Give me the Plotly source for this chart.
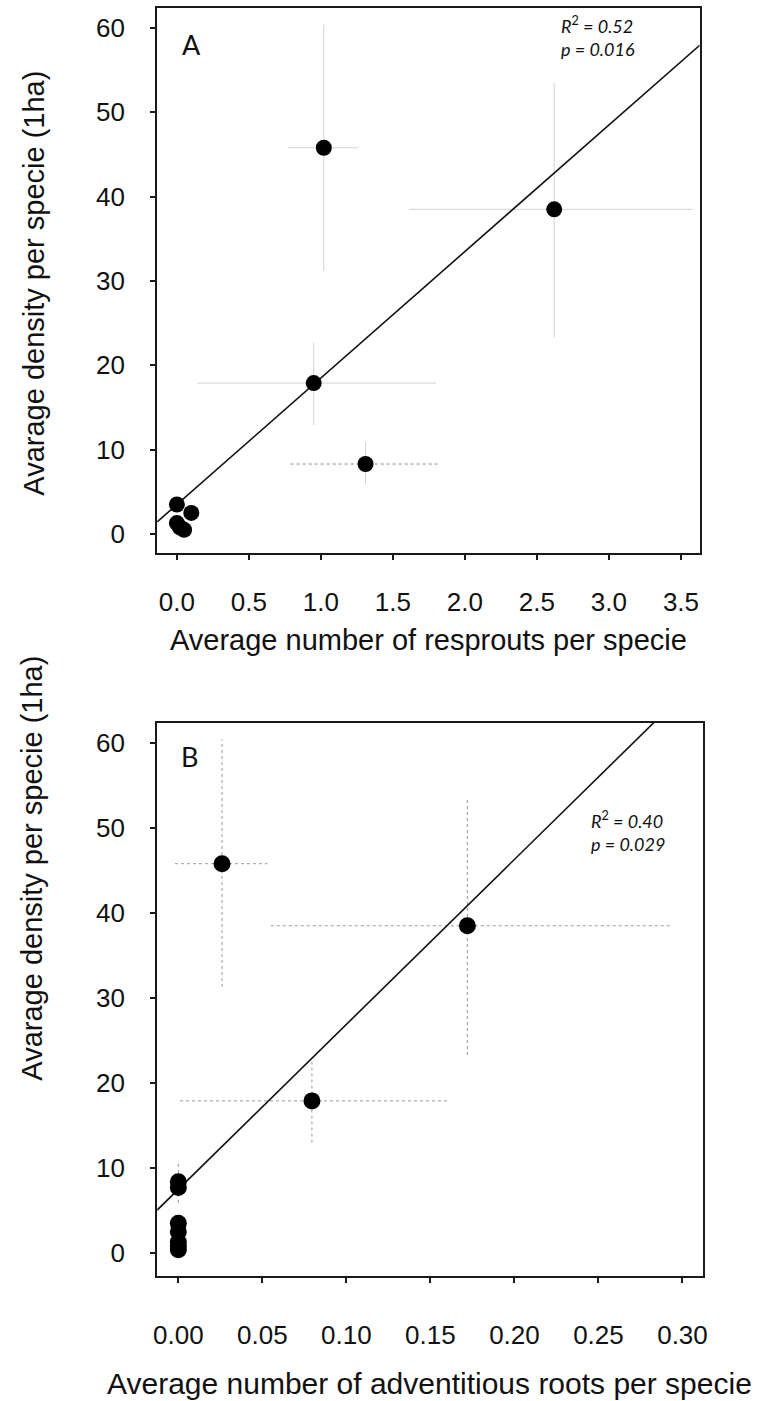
import plotly.graph_objects as go

W, H = 761, 1401

# ---------------- Panel A data ----------------
a_x = [1.02, 2.62, 0.95, 1.31, 0.00, 0.10, 0.00, 0.02, 0.05]
a_y = [45.8, 38.5, 17.9, 8.3, 3.5, 2.5, 1.3, 0.8, 0.5]
a_err_x_lo = [0.77, 1.61, 0.14, 0.79]
a_err_x_hi = [1.26, 3.58, 1.80, 1.83]
a_err_y_lo = [31.2, 23.3, 12.9, 5.9]
a_err_y_hi = [60.4, 53.5, 22.7, 10.9]
a_fit = {"intercept": 3.5, "slope": 15.0}
a_xticks = [0.0, 0.5, 1.0, 1.5, 2.0, 2.5, 3.0, 3.5]
a_xticklabels = ["0.0", "0.5", "1.0", "1.5", "2.0", "2.5", "3.0", "3.5"]
a_xrange = [-0.137, 3.63]
a_yrange = [-2.25, 62.37]

# ---------------- Panel B data ----------------
b_x = [0.026, 0.172, 0.0795, 0.0, 0.0, 0.0, 0.0, 0.0, 0.0, 0.0]
b_y = [45.8, 38.5, 17.9, 8.4, 7.7, 3.5, 2.5, 1.3, 0.8, 0.4]
b_err_x_lo = [-0.002, 0.055, 0.001]
b_err_x_hi = [0.053, 0.294, 0.160]
b_err_y_lo = [31.3, 23.3, 13.0, 5.9]
b_err_y_hi = [60.4, 53.6, 22.6, 10.6]
b_fit = {"intercept": 7.5, "slope": 194.0}
b_xticks = [0.0, 0.05, 0.10, 0.15, 0.20, 0.25, 0.30]
b_xticklabels = ["0.00", "0.05", "0.10", "0.15", "0.20", "0.25", "0.30"]
b_xrange = [-0.0126, 0.312]
b_yrange = [-2.7, 62.35]

y_ticks = [0, 10, 20, 30, 40, 50, 60]

y_title = "Avarage density per specie (1ha)"
a_x_title = "Average number of resprouts per specie"
b_x_title = "Average number of adventitious roots per specie"

# pixel layout of plot areas
A_BOX = (155, 704, 8, 553)     # left, right, top, bottom
B_BOX = (155, 707, 723, 1276)


def xdom(box):
    return [box[0] / W, box[1] / W]


def ydom(box):
    return [1 - box[3] / H, 1 - box[2] / H]


fig = go.Figure()


def seg_trace(xs, ys, xa, ya, color, dash, width=1):
    fig.add_trace(go.Scatter(x=xs, y=ys, mode="lines", xaxis=xa, yaxis=ya,
                             line=dict(color=color, width=width, dash=dash),
                             hoverinfo="skip", showlegend=False))


# ---- Panel A error bars ----
for i in range(len(a_err_y_lo)):
    seg_trace([a_x[i], a_x[i]], [a_err_y_lo[i], a_err_y_hi[i]], "x", "y", "#d2d2d2", "solid")
for i in range(len(a_err_x_lo)):
    dash = "dot" if i == 3 else "solid"
    col = "#8a8a8a" if i == 3 else "#d2d2d2"
    seg_trace([a_err_x_lo[i], a_err_x_hi[i]], [a_y[i], a_y[i]], "x", "y", col, dash)

# Panel A fit line
fig.add_trace(go.Scatter(
    x=a_xrange, y=[a_fit["intercept"] + a_fit["slope"] * v for v in a_xrange],
    mode="lines", line=dict(color="#111", width=1.6), xaxis="x", yaxis="y",
    hoverinfo="skip", showlegend=False))

fig.add_trace(go.Scatter(x=a_x, y=a_y, mode="markers", xaxis="x", yaxis="y",
                         marker=dict(color="black", size=16, line=dict(width=0)),
                         showlegend=False, cliponaxis=False))

# ---- Panel B error bars ----
for i in range(len(b_err_y_lo)):
    seg_trace([b_x[i], b_x[i]], [b_err_y_lo[i], b_err_y_hi[i]], "x2", "y2", "#9a9a9a", "dot")
for i in range(len(b_err_x_lo)):
    seg_trace([b_err_x_lo[i], b_err_x_hi[i]], [b_y[i], b_y[i]], "x2", "y2", "#9a9a9a", "dot")

fig.add_trace(go.Scatter(
    x=b_xrange, y=[b_fit["intercept"] + b_fit["slope"] * v for v in b_xrange],
    mode="lines", line=dict(color="#111", width=1.6), xaxis="x2", yaxis="y2",
    hoverinfo="skip", showlegend=False))

fig.add_trace(go.Scatter(x=b_x, y=b_y, mode="markers", xaxis="x2", yaxis="y2",
                         marker=dict(color="black", size=17, line=dict(width=0)),
                         showlegend=False, cliponaxis=False))

TICKFONT = dict(family="Liberation Sans, Arial, sans-serif", size=26, color="#111")
axis_common = dict(showgrid=False, zeroline=False, showline=True, linecolor="#1a1a1a",
                   linewidth=2, mirror=True, ticks="outside", ticklen=5, tickwidth=1.5,
                   tickcolor="#1a1a1a", tickfont=TICKFONT)

fig.update_layout(
    width=W, height=H, margin=dict(l=0, r=0, t=0, b=0),
    paper_bgcolor="white", plot_bgcolor="white", showlegend=False,
    xaxis=dict(domain=xdom(A_BOX), range=a_xrange, anchor="y", tickvals=a_xticks,
               ticktext=a_xticklabels, ticklabelstandoff=20, **axis_common),
    yaxis=dict(domain=ydom(A_BOX), range=a_yrange, anchor="x", tickvals=y_ticks,
               ticklabelstandoff=20, **axis_common),
    xaxis2=dict(domain=xdom(B_BOX), range=b_xrange, anchor="y2", tickvals=b_xticks,
                ticktext=b_xticklabels, ticklabelstandoff=30, **axis_common),
    yaxis2=dict(domain=ydom(B_BOX), range=b_yrange, anchor="x2", tickvals=y_ticks,
                ticklabelstandoff=20, **axis_common),
)

TITLEFONT = dict(family="Liberation Sans, Arial, sans-serif", size=29, color="#111")
TITLEFONT_B = dict(family="Liberation Sans, Arial, sans-serif", size=30, color="#111")
STATFONT = dict(family="Lato, sans-serif", size=18, color="#111")
LETTERFONT = dict(family="Lato, sans-serif", size=27, color="#111")


def px_ann(text, px, py, angle=0, font=TITLEFONT):
    fig.add_annotation(text=text, x=px / W, y=1 - py / H, xref="paper", yref="paper",
                       showarrow=False, textangle=angle, font=font,
                       xanchor="center", yanchor="middle")


px_ann(y_title, 30, 283, angle=-90)
px_ann(a_x_title, 430, 640)
px_ann(y_title, 28, 868, angle=-90)
px_ann(b_x_title, 431, 1383, font=TITLEFONT_B)

# panel letters
fig.add_annotation(text="A", x=0.10, y=58.0, xref="x", yref="y", showarrow=False,
                   font=LETTERFONT, xanchor="center", yanchor="middle")
fig.add_annotation(text="B", x=0.0068, y=58.4, xref="x2", yref="y2", showarrow=False,
                   font=LETTERFONT, xanchor="center", yanchor="middle")

# statistics
fig.add_annotation(text="<i>R</i><sup>2</sup><i> = 0.52</i><br><i>p = 0.016</i>",
                   x=2.656, y=62.0, xref="x", yref="y", showarrow=False, align="left",
                   font=STATFONT, xanchor="left", yanchor="top")
fig.add_annotation(text="<i>R</i><sup>2</sup><i> = 0.40</i><br><i>p = 0.029</i>",
                   x=0.2444, y=52.6, xref="x2", yref="y2", showarrow=False, align="left",
                   font=STATFONT, xanchor="left", yanchor="top")

fig.write_html("out.html", config={"displayModeBar": False},
               post_script="document.body.style.margin='0';document.body.style.overflow='hidden';")
